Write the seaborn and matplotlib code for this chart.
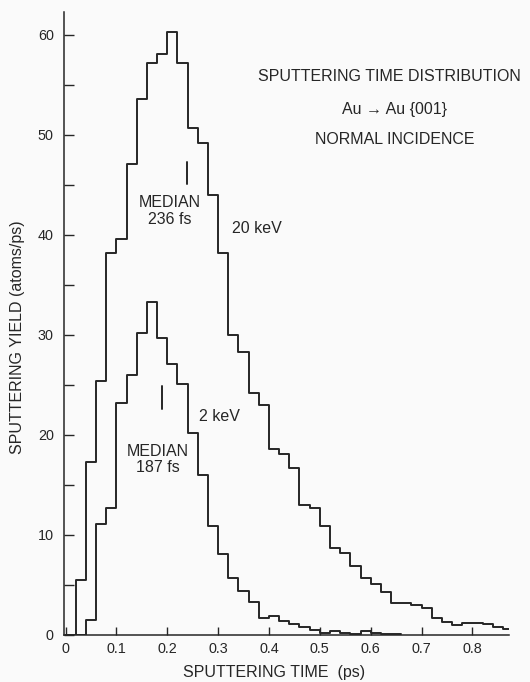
import numpy as np
import pandas as pd
import matplotlib
matplotlib.use("Agg")
import matplotlib.pyplot as plt
import seaborn as sns

# ---------------- data ----------------
bin_width = 0.02  # ps
yield_20kev = [0.0, 5.5, 17.3, 25.4, 38.2, 39.6, 47.1, 53.6, 57.2, 58.1,
               60.3, 57.2, 50.7, 49.2, 44.0, 38.2, 30.0, 28.3, 24.2, 23.0,
               18.6, 18.1, 16.7, 13.0, 12.7, 10.9, 8.7, 8.2, 6.9, 5.7,
               5.1, 4.3, 3.2, 3.2, 3.05, 2.7, 1.7, 1.3, 1.0, 1.2,
               1.2, 1.1, 0.8, 0.6]
yield_2kev = [0.0, 0.0, 1.5, 11.1, 12.7, 23.2, 26.0, 30.2, 33.3, 29.7,
              27.1, 25.1, 20.2, 16.0, 10.9, 8.1, 5.7, 4.4, 3.3, 1.7,
              1.9, 1.4, 1.1, 0.8, 0.5, 0.2, 0.4, 0.2, 0.1, 0.4,
              0.2, 0.1, 0.1]
median_20kev = 0.238
median_2kev = 0.190
x_ticks = [0, 0.1, 0.2, 0.3, 0.4, 0.5, 0.6, 0.7, 0.8]
x_tick_labels = ["0", "0.1", "0.2", "0.3", "0.4", "0.5", "0.6", "0.7", "0.8"]
y_ticks = [0, 10, 20, 30, 40, 50, 60]
y_minor_ticks = [5, 15, 25, 35, 45, 55]

ink = "#262626"
paper = "#fafafa"

sns.set_theme(style="ticks")
plt.rcParams['font.family'] = ['Liberation Sans', 'DejaVu Sans']
plt.rcParams['text.color'] = ink
plt.rcParams['axes.edgecolor'] = ink
plt.rcParams['xtick.color'] = ink
plt.rcParams['ytick.color'] = ink
plt.rcParams['axes.labelcolor'] = ink

fig = plt.figure(figsize=(5.3, 6.82), dpi=100, facecolor=paper)
W, H = 530, 682
ax = fig.add_axes([63.5 / W, 47 / H, (509 - 63.5) / W, (635 - 12) / H])
ax.set_facecolor(paper)


def make_frame(values):
    n = len(values)
    centers = (np.arange(n) + 0.5) * bin_width
    return pd.DataFrame({"time": centers, "yield": values}), n


df20, n20 = make_frame(yield_20kev)
df2, n2 = make_frame(yield_2kev)

for df, n in [(df20, n20), (df2, n2)]:
    sns.histplot(data=df, x="time", weights="yield", bins=n,
                 binrange=(0, n * bin_width),
                 element="step", fill=False, color=ink, linewidth=1.4,
                 ax=ax, legend=False)

# median marks
ax.plot([median_20kev, median_20kev], [45.1, 47.3], color=ink, lw=1.4)
ax.plot([median_2kev, median_2kev], [22.6, 24.9], color=ink, lw=1.4)

fs = 11.5
ax.text(0.205, 43.2, "MEDIAN", ha="center", va="center", fontsize=fs)
ax.text(0.205, 41.5, "236 fs", ha="center", va="center", fontsize=fs)
ax.text(0.181, 18.4, "MEDIAN", ha="center", va="center", fontsize=fs)
ax.text(0.181, 16.8, "187 fs", ha="center", va="center", fontsize=fs)
ax.text(0.328, 40.6, "20 keV", ha="left", va="center", fontsize=fs)
ax.text(0.262, 21.8, "2 keV", ha="left", va="center", fontsize=fs)

ax.text(0.637, 55.8, "SPUTTERING TIME DISTRIBUTION", ha="center", va="center", fontsize=fs)
ax.text(0.647, 52.5, "Au \u2192 Au {001}", ha="center", va="center", fontsize=fs)
ax.text(0.647, 49.5, "NORMAL INCIDENCE", ha="center", va="center", fontsize=fs)

ax.set_xlim(-0.004, 0.872)
ax.set_ylim(0, 62.3)
ax.set_xticks(x_ticks)
ax.set_xticklabels(x_tick_labels)
ax.set_yticks(y_ticks)
ax.set_yticks(y_minor_ticks, minor=True)
ax.tick_params(axis="x", direction="in", length=6, width=1, pad=5, labelsize=10.4)
ax.tick_params(axis="y", which="both", direction="in", length=7, width=1, pad=7, labelsize=10.4)
ax.set_xlabel("")
ax.set_ylabel("")
for s in ["top", "right"]:
    ax.spines[s].set_visible(False)
for s in ["left", "bottom"]:
    ax.spines[s].set_linewidth(1.1)

fig.text(274 / W, 1 - 673 / H, "SPUTTERING TIME  (ps)", ha="center", va="center", fontsize=fs)
fig.text(18 / W, 1 - 337 / H, "SPUTTERING YIELD (atoms/ps)", ha="center", va="center",
         rotation=90, fontsize=fs)

fig.savefig("out.png", dpi=100, facecolor=paper)
